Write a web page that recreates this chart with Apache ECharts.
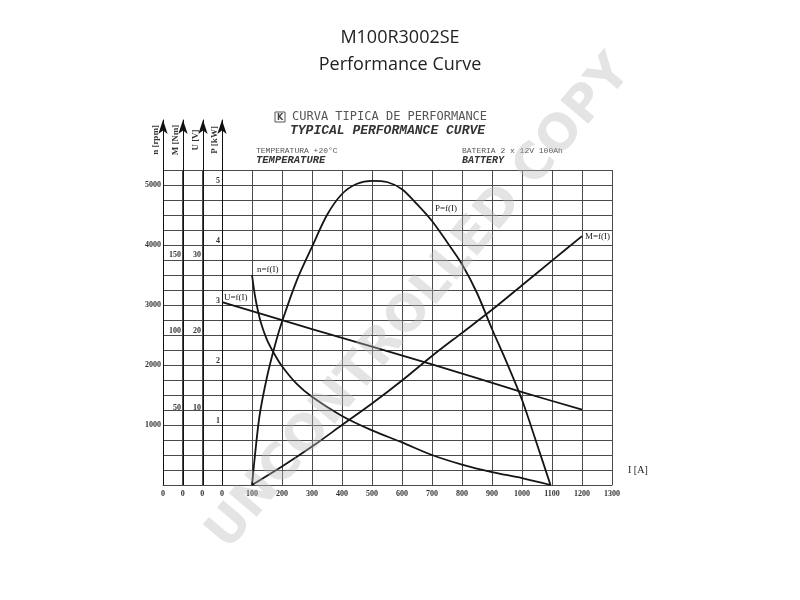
<!DOCTYPE html>
<html>
<head>
<meta charset="utf-8">
<script src="https://cdn.jsdelivr.net/npm/echarts@6/dist/echarts.min.js"></script>
<style>html,body{margin:0;padding:0;background:#fff}#c{width:800px;height:600px}</style>
</head>
<body>
<div id="c"></div>
<script>
// ---- data ----
const iTicks = [0,100,200,300,400,500,600,700,800,900,1000,1100,1200,1300];
const zeroLabels = ['0','0','0'];
const nTicks = [1000,2000,3000,4000,5000];
const mTicks = [50,100,150];
const uTicks = [10,20,30];
const pTicks = [1,2,3,4,5];

const nCurrent = [100,110,120,130,150,175,200,250,300,400,500,600,700,800,900,1000,1095];
const nSpeed   = [3500,3150,2900,2700,2420,2180,1980,1680,1470,1150,910,710,500,340,215,115,0];

const pCurrent = [100,110,125,150,175,200,250,300,350,400,450,500,550,600,650,700,750,800,850,900,950,1000,1050,1095];
const pPower   = [0,0.5,1.15,1.8,2.3,2.72,3.42,3.97,4.5,4.85,5.02,5.07,5.05,4.93,4.68,4.4,4.05,3.68,3.2,2.6,2.03,1.42,0.68,0];

const mCurrent = [100,200,300,400,500,600,700,800,900,1000,1100,1200];
const mTorque  = [0,12,25,39,53,68,84,99,114,130,146,162];

const uCurrent = [0,300,700,1000,1200];
const uVoltage = [23.8,20.3,15.7,12.1,9.8];

const curveNames = {n:'n=f(I)', p:'P=f(I)', m:'M=f(I)', u:'U=f(I)'};
const pLabelAt = 650;

// ---- chart ----
const chart = echarts.init(document.getElementById('c'), null, {renderer:'canvas'});
const gridColor = '#4a4a4a';
const tickFont = {fontFamily:'Liberation Serif', fontSize:8, fontWeight:'bold', color:'#333'};
const curveLabel = {show:true, fontFamily:'Liberation Serif', fontSize:9, color:'#222'};
const curveLine = {color:'#151515', width:1.8};

function pairs(xs, ys){ return xs.map((x,i)=>[x, ys[i]]); }
function withLabel(data, idx, lab){
  return data.map((d,i)=> i===idx ? {value:d, label:lab} : {value:d});
}
function tickFmt(list){ return v => list.indexOf(Math.round(v*1000)/1000) >= 0 ? String(v) : ''; }

const nData = withLabel(pairs(nCurrent, nSpeed), 0,
  Object.assign({}, curveLabel, {formatter:curveNames.n, position:'right', distance:5, offset:[0,-5]}));
const uData = withLabel(pairs(uCurrent, uVoltage), 0,
  Object.assign({}, curveLabel, {formatter:curveNames.u, position:'right', distance:2, offset:[0,-5]}));
const mData = withLabel(pairs(mCurrent, mTorque), mCurrent.length-1,
  Object.assign({}, curveLabel, {formatter:curveNames.m, position:'right', distance:3, offset:[0,1]}));
const pData = withLabel(pairs(pCurrent, pPower), pCurrent.indexOf(pLabelAt),
  Object.assign({}, curveLabel, {formatter:curveNames.p, position:'right', distance:18, offset:[0,4]}));

function arrowAxis(offset){
  return {gridIndex:1, type:'value', min:0, max:1, position:'left', offset:offset,
    axisLine:{show:true, onZero:false, symbol:['none','arrow'], symbolSize:[7,14], lineStyle:{color:'#111', width:1}},
    axisTick:{show:false}, axisLabel:{show:false}, splitLine:{show:false}};
}
function labelAxis(offset, max, interval, list, extra){
  return {gridIndex:0, type:'value', min:0, max:max, interval:interval, position:'left', offset:offset,
    axisLine:{show:false, onZero:false}, axisTick:{show:false}, splitLine:{show:false},
    axisLabel:Object.assign({margin:2, formatter:tickFmt(list)}, tickFont, extra||{})};
}

const option = {
  animation:false,
  backgroundColor:'#ffffff',
  grid:[
    {left:222, right:188, top:170, bottom:115, outerBoundsMode:'none'},
    {left:222, right:188, top:120, bottom:115, outerBoundsMode:'none'},
    {left:163, right:578, top:170, bottom:115, outerBoundsMode:'none'}
  ],
  xAxis:[
    {gridIndex:0, type:'value', min:0, max:1300, interval:100,
      axisLine:{show:true, onZero:false, lineStyle:{color:gridColor, width:1}},
      axisTick:{show:false},
      splitLine:{show:true, lineStyle:{color:gridColor, width:1}},
      axisLabel:Object.assign({margin:5, formatter:tickFmt(iTicks)}, tickFont),
      name:'I [A]', nameLocation:'end', nameGap:16,
      nameTextStyle:{fontFamily:'Liberation Serif', fontSize:10, color:'#222', verticalAlign:'bottom', padding:[0,0,10,0]}},
    {gridIndex:1, type:'value', min:0, max:1, show:false},
    {gridIndex:2, type:'value', min:0, max:3, interval:1,
      axisLine:{show:true, onZero:false, lineStyle:{color:gridColor, width:1}},
      axisTick:{show:false},
      splitLine:{show:true, lineStyle:{color:gridColor, width:1}},
      axisLabel:Object.assign({margin:5, formatter:v => v < zeroLabels.length ? zeroLabels[v] : ''}, tickFont)}
  ],
  yAxis:[
    {gridIndex:0, type:'value', min:0, max:5250, interval:250, position:'left', offset:59,
      axisLine:{show:false, onZero:false}, axisTick:{show:false},
      splitLine:{show:true, lineStyle:{color:gridColor, width:1}},
      axisLabel:Object.assign({margin:2, formatter:tickFmt(nTicks)}, tickFont)},
    labelAxis(39, 205, 50, mTicks),
    labelAxis(19, 41, 10, uTicks),
    labelAxis(0, 5.25, 1, pTicks, {verticalAlign:'bottom'}),
    arrowAxis(59), arrowAxis(39), arrowAxis(19), arrowAxis(0),
    {gridIndex:2, type:'value', min:0, max:5250, interval:250,
      axisLine:{show:false}, axisTick:{show:false}, axisLabel:{show:false},
      splitLine:{show:true, lineStyle:{color:gridColor, width:1}}}
  ],
  series:[
    {type:'line', name:'n', xAxisIndex:0, yAxisIndex:0, data:nData, smooth:0.3,
      symbol:'circle', symbolSize:0, showSymbol:true, lineStyle:curveLine, itemStyle:{color:'#151515'}, z:5},
    {type:'line', name:'M', xAxisIndex:0, yAxisIndex:1, data:mData, smooth:0.3,
      symbol:'circle', symbolSize:0, showSymbol:true, lineStyle:curveLine, itemStyle:{color:'#151515'}, z:5},
    {type:'line', name:'U', xAxisIndex:0, yAxisIndex:2, data:uData, smooth:0.3,
      symbol:'circle', symbolSize:0, showSymbol:true, lineStyle:curveLine, itemStyle:{color:'#151515'}, z:5},
    {type:'line', name:'P', xAxisIndex:0, yAxisIndex:3, data:pData, smooth:0.3,
      symbol:'circle', symbolSize:0, showSymbol:true, lineStyle:curveLine, itemStyle:{color:'#151515'}, z:5}
  ],
  graphic:[
    {type:'text', x:400, y:38, style:{text:'M100R3002SE', font:'18px "Open Sans"', fill:'#222', align:'center', verticalAlign:'middle'}},
    {type:'text', x:400, y:65, style:{text:'Performance Curve', font:'18px "Open Sans"', fill:'#222', align:'center', verticalAlign:'middle'}},
    {type:'rect', shape:{x:275, y:112, width:10, height:10}, style:{fill:'none', stroke:'#555', lineWidth:1}},
    {type:'text', x:280, y:117.5, style:{text:'K', font:'bold 8px "DejaVu Sans"', fill:'#444', align:'center', verticalAlign:'middle'}},
    {type:'text', x:292, y:117, style:{text:'CURVA TIPICA DE PERFORMANCE', font:'12px "DejaVu Sans Mono"', fill:'#555', align:'left', verticalAlign:'middle'}},
    {type:'text', x:290, y:131, style:{text:'TYPICAL PERFORMANCE CURVE', font:'italic bold 13px "Liberation Mono"', fill:'#333', align:'left', verticalAlign:'middle'}},
    {type:'text', x:256, y:151, style:{text:'TEMPERATURA +20°C', font:'8px "Liberation Mono"', fill:'#555', align:'left', verticalAlign:'middle'}},
    {type:'text', x:256, y:160, style:{text:'TEMPERATURE', font:'italic bold 10.5px "Liberation Mono"', fill:'#333', align:'left', verticalAlign:'middle'}},
    {type:'text', x:462, y:151, style:{text:'BATERIA 2 x 12V 100Ah', font:'8px "Liberation Mono"', fill:'#555', align:'left', verticalAlign:'middle'}},
    {type:'text', x:462, y:160, style:{text:'BATTERY', font:'italic bold 10px "Liberation Mono"', fill:'#333', align:'left', verticalAlign:'middle'}},
    {type:'text', x:156, y:140, rotation:Math.PI/2, style:{text:'n [rpm]', font:'bold 9px "Liberation Serif"', fill:'#333', align:'center', verticalAlign:'middle'}},
    {type:'text', x:176, y:140, rotation:Math.PI/2, style:{text:'M [Nm]', font:'bold 9px "Liberation Serif"', fill:'#333', align:'center', verticalAlign:'middle'}},
    {type:'text', x:196, y:140, rotation:Math.PI/2, style:{text:'U [V]', font:'bold 9px "Liberation Serif"', fill:'#333', align:'center', verticalAlign:'middle'}},
    {type:'text', x:215, y:140, rotation:Math.PI/2, style:{text:'P [kW]', font:'bold 9px "Liberation Serif"', fill:'#333', align:'center', verticalAlign:'middle'}},
    {type:'text', x:420, y:303, rotation:0.87, z:100, style:{text:'UNCONTROLLED COPY', font:'bold 50px "DejaVu Sans"', fill:'rgba(185,185,185,0.38)', align:'center', verticalAlign:'middle'}}
  ]
};
chart.setOption(option);
</script>
</body>
</html>
